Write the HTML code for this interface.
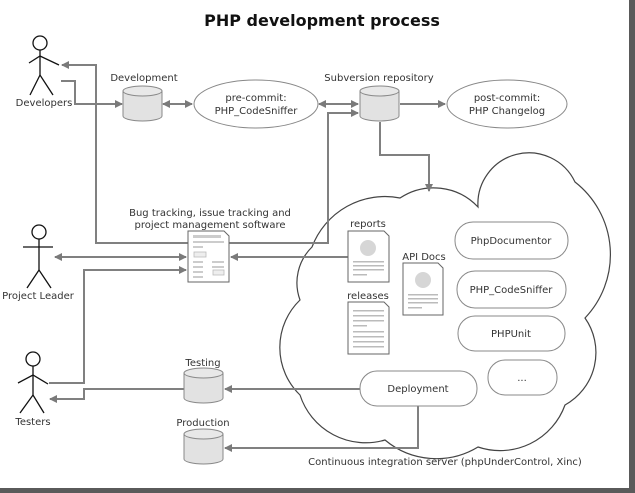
<!DOCTYPE html>
<html><head><meta charset="utf-8"><style>
html,body{margin:0;padding:0;background:#fff;}
svg{display:block;}
text{font-family:"DejaVu Sans","Liberation Sans",sans-serif;font-size:10px;fill:#333;}
</style></head><body>
<svg width="635" height="493" viewBox="0 0 635 493">
<defs>
<marker id="a" markerWidth="8" markerHeight="8" refX="7" refY="4" orient="auto" markerUnits="userSpaceOnUse">
<path d="M0,0 L8,4 L0,8 z" fill="#7a7a7a"/></marker>
<marker id="s" markerWidth="8" markerHeight="8" refX="1" refY="4" orient="auto" markerUnits="userSpaceOnUse">
<path d="M8,0 L0,4 L8,8 z" fill="#7a7a7a"/></marker>
<g id="cyl">
<path d="M0,5 L0,30 A19.5,5 0 0 0 39,30 L39,5" fill="#e2e2e2" stroke="#888" stroke-width="1"/>
<ellipse cx="19.5" cy="5" rx="19.5" ry="5" fill="#e8e8e8" stroke="#888" stroke-width="1"/>
</g>
</defs>
<rect x="629" y="0" width="6" height="493" fill="#5a5a5a"/>
<rect x="0" y="488" width="635" height="5" fill="#5a5a5a"/>
<text x="322" y="26" text-anchor="middle" style="font-size:16px;font-weight:bold;fill:#111">PHP development process</text>

<!-- cloud -->
<path d="M312,247 A78,78 0 0 1 400,198 A61,61 0 0 1 478,207 A51,51 0 0 1 575,182 A92,92 0 0 1 585,318 A60,60 0 0 1 565,405 A69,69 0 0 1 478,447 A80,80 0 0 1 385,440 A69,69 0 0 1 300,395 A66,66 0 0 1 300,300 A50,50 0 0 1 312,247 z" fill="#fff" stroke="#444" stroke-width="1.2"/>

<g stroke="#808080" stroke-width="2" fill="none">
<polyline points="61,81 75,81 75,104 122,104" marker-end="url(#a)"/>
<line x1="163" y1="104" x2="192" y2="104" marker-start="url(#s)" marker-end="url(#a)"/>
<line x1="319" y1="104" x2="358" y2="104" marker-start="url(#s)" marker-end="url(#a)"/>
<line x1="400" y1="104" x2="445" y2="104" marker-end="url(#a)"/>
<polyline points="380,122 380,155 429,155 429,191" marker-end="url(#a)"/>
<polyline points="358,113 328,113 328,243 96,243 96,65 62,65" marker-start="url(#s)" marker-end="url(#a)"/>
<line x1="55" y1="257" x2="186" y2="257" marker-start="url(#s)" marker-end="url(#a)"/>
<polyline points="49,383 84,383 84,270 186,270" marker-end="url(#a)"/>
<line x1="348" y1="257" x2="231" y2="257" marker-end="url(#a)"/>
<line x1="360" y1="389" x2="225" y2="389" marker-end="url(#a)"/>
<polyline points="184,389 84,389 84,399 50,399" marker-end="url(#a)"/>
<polyline points="418,406 418,448 225,448" marker-end="url(#a)"/>
</g>

<!-- stick figures -->
<g stroke="#111" stroke-width="1.3" fill="none">
<circle cx="40" cy="43" r="7"/><line x1="40" y1="50" x2="40" y2="75"/>
<polyline points="29,63 40,56 59,65"/><polyline points="30,95 40,75 53,95"/>
<circle cx="39" cy="232" r="7"/><line x1="39" y1="239" x2="39" y2="270"/>
<line x1="23" y1="247" x2="53" y2="247"/><polyline points="27,288 39,270 51,288"/>
<circle cx="33" cy="359" r="7"/><line x1="33" y1="366" x2="33" y2="395"/>
<polyline points="18,383 33,375 48,384"/><polyline points="20,413 33,395 44,413"/>
</g>
<text x="44" y="106" text-anchor="middle">Developers</text>
<text x="38" y="299" text-anchor="middle">Project Leader</text>
<text x="33" y="425" text-anchor="middle">Testers</text>

<!-- cylinders -->
<use href="#cyl" x="123" y="86"/>
<use href="#cyl" x="360" y="86"/>
<use href="#cyl" x="184" y="368"/>
<use href="#cyl" x="184" y="429"/>
<text x="144" y="81" text-anchor="middle">Development</text>
<text x="379" y="81" text-anchor="middle">Subversion repository</text>
<text x="203" y="366" text-anchor="middle">Testing</text>
<text x="203" y="426" text-anchor="middle">Production</text>

<!-- ellipses -->
<ellipse cx="256" cy="104" rx="62" ry="24" fill="#fff" stroke="#888"/>
<text x="256" y="101" text-anchor="middle">pre-commit:</text>
<text x="256" y="114" text-anchor="middle">PHP_CodeSniffer</text>
<ellipse cx="507" cy="104" rx="60" ry="24" fill="#fff" stroke="#888"/>
<text x="507" y="101" text-anchor="middle">post-commit:</text>
<text x="507" y="114" text-anchor="middle">PHP Changelog</text>

<!-- bug tracker doc -->
<text x="210" y="216" text-anchor="middle">Bug tracking, issue tracking and</text>
<text x="210" y="228" text-anchor="middle">project management software</text>
<path d="M188,231 L224,231 L229,236 L229,282 L188,282 z" fill="#fff" stroke="#666"/>
<g fill="#ccc"><rect x="193" y="235" width="28" height="3"/><rect x="193" y="241" width="31" height="2"/><rect x="193" y="246" width="10" height="2"/><rect x="194" y="252" width="12" height="5" fill="#eee" stroke="#bbb" stroke-width="0.8"/>
<rect x="193" y="261" width="10" height="2"/><rect x="212" y="261" width="12" height="2"/><rect x="193" y="266" width="10" height="2"/><rect x="212" y="266" width="12" height="2"/><rect x="193" y="271" width="10" height="2"/><rect x="213" y="270" width="11" height="5" fill="#eee" stroke="#bbb" stroke-width="0.8"/><rect x="193" y="276" width="10" height="2"/></g>

<!-- reports -->
<text x="368" y="227" text-anchor="middle">reports</text>
<path d="M348,231 L384,231 L389,236 L389,282 L348,282 z" fill="#fff" stroke="#666"/>
<circle cx="368" cy="248" r="8" fill="#d6d6d6"/>
<g fill="#bbb"><rect x="353" y="261" width="31" height="1.5"/><rect x="353" y="265" width="31" height="1.5"/><rect x="353" y="269" width="31" height="1.5"/><rect x="353" y="274" width="14" height="1.5"/></g>
<!-- api docs -->
<text x="424" y="260" text-anchor="middle">API Docs</text>
<path d="M403,263 L438,263 L443,268 L443,315 L403,315 z" fill="#fff" stroke="#666"/>
<circle cx="423" cy="280" r="8" fill="#d6d6d6"/>
<g fill="#bbb"><rect x="408" y="294" width="30" height="1.5"/><rect x="408" y="298" width="30" height="1.5"/><rect x="408" y="302" width="30" height="1.5"/><rect x="408" y="307" width="14" height="1.5"/></g>
<!-- releases -->
<text x="368" y="299" text-anchor="middle">releases</text>
<path d="M348,302 L384,302 L389,307 L389,354 L348,354 z" fill="#fff" stroke="#666"/>
<g fill="#bbb"><rect x="353" y="310" width="31" height="1.5"/><rect x="353" y="315" width="31" height="1.5"/><rect x="353" y="320" width="31" height="1.5"/><rect x="353" y="325" width="14" height="1.5"/><rect x="353" y="331" width="31" height="1.5"/><rect x="353" y="336" width="31" height="1.5"/><rect x="353" y="341" width="31" height="1.5"/><rect x="353" y="346" width="31" height="1.5"/></g>

<!-- pills -->
<g fill="#fff" stroke="#888">
<rect x="455" y="222" width="113" height="37" rx="18"/>
<rect x="457" y="271" width="109" height="37" rx="18"/>
<rect x="458" y="316" width="107" height="35" rx="17"/>
<rect x="488" y="360" width="69" height="35" rx="17"/>
<rect x="360" y="371" width="117" height="35" rx="17"/>
</g>
<text x="511" y="244" text-anchor="middle">PhpDocumentor</text>
<text x="511" y="293" text-anchor="middle">PHP_CodeSniffer</text>
<text x="511" y="337" text-anchor="middle">PHPUnit</text>
<text x="522" y="381" text-anchor="middle">...</text>
<text x="418" y="392" text-anchor="middle">Deployment</text>
<text x="445" y="465" text-anchor="middle">Continuous integration server (phpUnderControl, Xinc)</text>
</svg>
</body></html>
